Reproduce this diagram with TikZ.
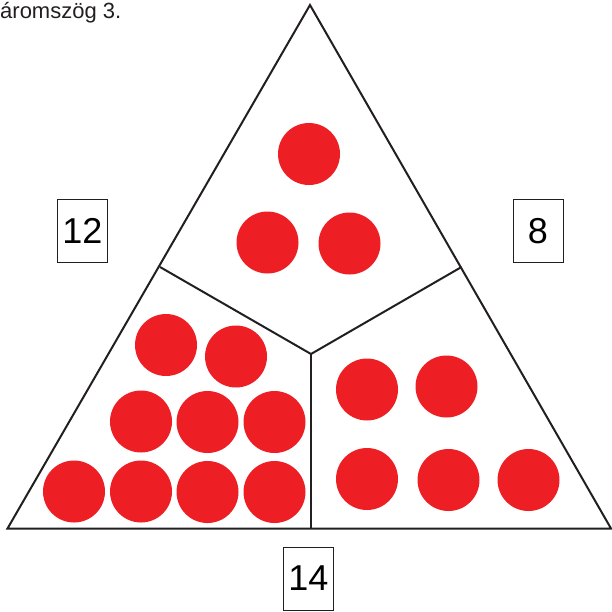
\documentclass[tikz,border=0pt]{standalone}
\usepackage{fontspec}
\setmainfont{Liberation Sans}
\usepackage{tikz}
\usetikzlibrary{positioning,calc}
\usepackage{xcolor}
\definecolor{dot-red}{RGB}{237,31,36}
\definecolor{line-black}{RGB}{35,31,32}

\begin{document}
\begin{tikzpicture}[x=1pt, y=-1pt,
    edge/.style={draw=line-black, line width=2pt},
    dot/.style={circle, fill=dot-red, draw=none, inner sep=0pt, minimum size=62pt},
    numbox/.style={rectangle, draw=line-black, line width=0.8pt, minimum width=50pt, minimum height=63pt, inner sep=0pt, font=\fontsize{36}{36}\selectfont}]

    \useasboundingbox (0,0) rectangle (612,611);

    % Title (cut off at the left)
    \node[anchor=base west, inner sep=0pt, font=\fontsize{22}{22}\selectfont, text=line-black] (title) at (0,18.5) {áromszög 3.};

    % Corners of the triangle and the split
    \coordinate (apex) at (310,5);
    \coordinate (bl) at (7.5,528.5);
    \coordinate (br) at (611,528.5);
    \coordinate (ctr) at (311,354);
    \coordinate (ml) at (160,267);
    \coordinate (mr) at (461.5,267);
    \coordinate (mb) at (311,528.5);

    % Triangle and dividers
    \draw[edge, line join=miter] (apex) -- (bl) -- (br) -- cycle;
    \draw[edge] (ml) -- (ctr);
    \draw[edge] (mr) -- (ctr);
    \draw[edge] (ctr) -- (mb);

    % Top part
    \node[dot] (t1) at (309,154) {};
    \node[dot] (t2) at (267.5,242.5) {};
    \node[dot] (t3) at (349.5,243.5) {};

    % Left part
    \node[dot] (l1) at (166,345) {};
    \node[dot] (l2) at (236,356.5) {};
    \node[dot] (l3) at (141,421.5) {};
    \node[dot] (l4) at (207.5,422) {};
    \node[dot] (l5) at (274.5,422) {};
    \node[dot] (l6) at (74,491.5) {};
    \node[dot] (l7) at (141,491.5) {};
    \node[dot] (l8) at (207.5,492) {};
    \node[dot] (l9) at (274.5,492) {};

    % Right part
    \node[dot] (r1) at (367,389.5) {};
    \node[dot] (r2) at (446.5,386.5) {};
    \node[dot] (r3) at (367,479) {};
    \node[dot] (r4) at (448.5,480) {};
    \node[dot] (r5) at (528.5,480) {};

    % Numbers
    \node[numbox] (nleft) at (82.5,231) {12};
    \node[numbox] (nright) at (538,231) {8};
    \node[numbox] (nbottom) at (308.5,578.5) {14};
\end{tikzpicture}
\end{document}
